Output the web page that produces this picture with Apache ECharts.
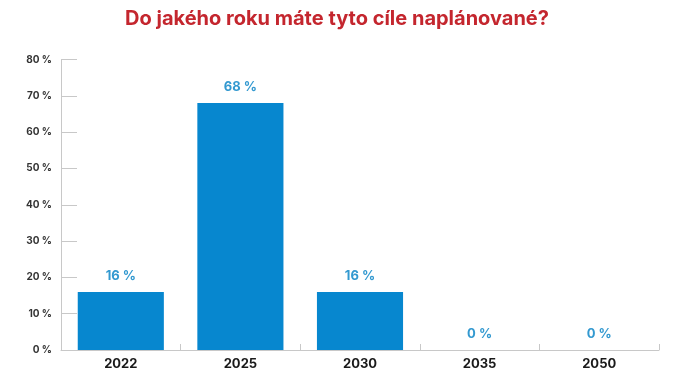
<!DOCTYPE html>
<html><head><meta charset="utf-8">
<script src="https://cdn.jsdelivr.net/npm/echarts@6/dist/echarts.min.js"></script>
<style>html,body{margin:0;padding:0;background:#fff}#c{width:674px;height:380px}</style>
</head><body><div id="c"></div>
<script>
const title = 'Do jakého roku máte tyto cíle naplánované?';
const categories = ['2022', '2025', '2030', '2035', '2050'];
const values = [16, 68, 16, 0, 0];
const yTicks = [0, 10, 20, 30, 40, 50, 60, 70, 80];

const chart = echarts.init(document.getElementById('c'), null, {renderer: 'canvas'});
chart.setOption({
  animation: false,
  backgroundColor: '#fff',
  title: {
    text: title, left: 'center', top: 4,
    textStyle: {color: '#c4262e', fontSize: 20, fontWeight: 'bold', fontFamily: 'Inter'}
  },
  grid: {left: 61, right: 15, top: 59.5, bottom: 30, containLabel: false},
  xAxis: {
    type: 'category', data: categories,
    axisLine: {lineStyle: {color: '#c8c8c8', width: 1}},
    axisTick: {show: true, inside: true, length: 6, alignWithLabel: false, lineStyle: {color: '#c8c8c8'}},
    axisLabel: {color: '#1a1a1a', fontSize: 13, fontWeight: 'bold', fontFamily: 'Inter', margin: 8}
  },
  yAxis: {
    type: 'value', min: yTicks[0], max: yTicks[yTicks.length - 1], interval: 10,
    axisLine: {show: true, lineStyle: {color: '#c8c8c8', width: 1}},
    axisTick: {show: true, inside: true, length: 16, lineStyle: {color: '#c8c8c8'}},
    splitLine: {show: false},
    axisLabel: {color: '#333', fontSize: 10, fontWeight: 'bold', fontFamily: 'Inter', margin: 9,
      formatter: v => v + ' %'}
  },
  series: [{
    type: 'bar', data: values, barWidth: '72%',
    itemStyle: {color: '#0787cf'},
    label: {show: true, position: 'top', distance: 9, color: '#3399d0', fontSize: 13,
      fontWeight: 'bold', fontFamily: 'Inter', formatter: p => p.value + ' %'}
  }]
});
</script></body></html>
